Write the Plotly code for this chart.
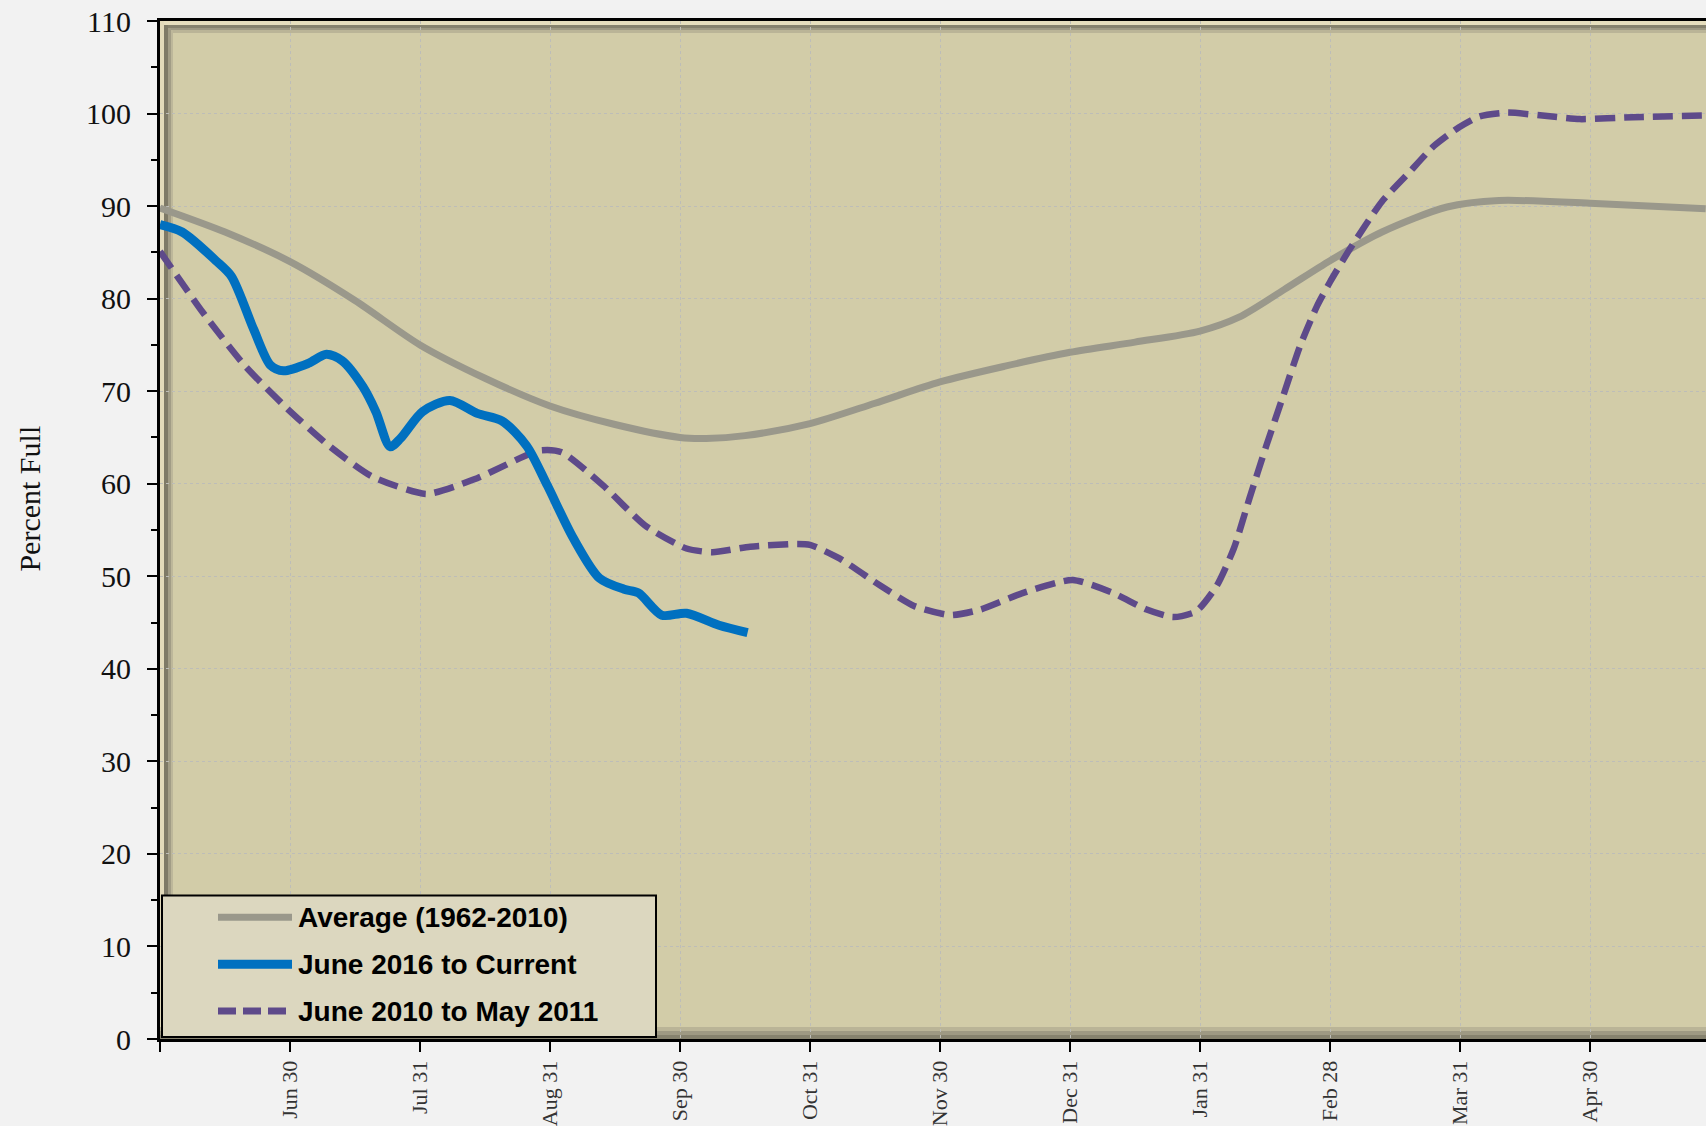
import plotly.graph_objects as go

# ---------------- data (x = months since June 1) ----------------
tick_pos = [0, 1, 2, 3, 4, 5, 6, 7, 8, 9, 10, 11]
tick_labels = ["", "Jun 30", "Jul 31", "Aug 31", "Sep 30", "Oct 31", "Nov 30",
               "Dec 31", "Jan 31", "Feb 28", "Mar 31", "Apr 30"]

avg_x = [0, 0.5, 1, 1.5, 2, 2.5, 3, 3.5, 4, 4.2, 4.5, 5, 5.5, 6, 6.5, 7, 7.5, 8,
         8.3, 8.65, 9, 9.4, 9.9, 10.3, 11, 11.89]
avg_y = [89.8, 87.2, 84.0, 79.8, 75.0, 71.4, 68.4, 66.4, 65.0, 64.9, 65.2, 66.5,
         68.7, 71.0, 72.7, 74.2, 75.3, 76.5, 78.0, 81.0, 84.1, 87.2, 89.9, 90.6,
         90.3, 89.7]

cur_x = [0, 0.17, 0.43, 0.55, 0.72, 0.85, 0.95, 1.14, 1.28, 1.4, 1.56, 1.66, 1.77,
         1.85, 2.02, 2.23, 2.44, 2.63, 2.82, 2.98, 3.18, 3.38, 3.57, 3.68, 3.86,
         4.05, 4.3, 4.52]
cur_y = [88.0, 87.2, 84.1, 82.4, 76.7, 72.8, 72.2, 73.0, 74.0, 73.3, 70.5, 67.8,
         64.0, 64.9, 67.8, 69.0, 67.6, 66.8, 64.1, 59.8, 54.1, 49.8, 48.6, 48.2,
         45.8, 46.0, 44.7, 43.9]

wet_x = [0, 0.33, 0.65, 0.98, 1.3, 1.63, 2.05, 2.44, 2.92, 3.09, 3.41, 3.73, 4.05,
         4.25, 4.54, 4.9, 5.0, 5.23, 5.54, 5.8, 6.08, 6.31, 6.64, 7.02, 7.33, 7.59,
         7.79, 7.97, 8.13, 8.26, 8.38, 8.51, 8.64, 8.77, 8.9, 9.0, 9.15, 9.4, 9.6,
         9.8, 9.99, 10.15, 10.36, 10.69, 10.92, 11.33, 11.89]
wet_y = [85.1, 78.5, 72.8, 68.1, 64.1, 60.8, 58.9, 60.6, 63.6, 63.4, 59.8, 55.5,
         53.0, 52.6, 53.2, 53.5, 53.4, 51.9, 49.0, 46.8, 45.8, 46.4, 48.2, 49.6,
         48.2, 46.4, 45.6, 46.2, 49.0, 53.0, 58.4, 64.1, 69.5, 74.9, 79.2, 81.8,
         85.3, 90.5, 93.5, 96.5, 98.5, 99.7, 100.1, 99.7, 99.4, 99.6, 99.8]

series_names = ["Average (1962-2010)", "June 2016 to Current", "June 2010 to May 2011"]

# ---------------- styling ----------------
W, H = 1706, 1126
L, R, T, B = 160, 0, 21, 84
PW, PH = W - L - R, H - T - B
BG = "#F2F2F2"
PLOT_BG = "#D2CCA8"
C_AVG = "#9A988B"
C_CUR = "#0070C0"
C_WET = "#5E4A8A"


def px(xp):
    return (xp - L) / PW


def py(yp):
    return (H - B - yp) / PH


fig = go.Figure()
fig.add_trace(go.Scatter(x=avg_x, y=avg_y, mode="lines", name=series_names[0],
                         line=dict(color=C_AVG, width=7, shape="spline", smoothing=0.8)))
fig.add_trace(go.Scatter(x=wet_x, y=wet_y, mode="lines", name=series_names[2],
                         line=dict(color=C_WET, width=6.5, dash="20px,9px",
                                   shape="spline", smoothing=0.6)))
fig.add_trace(go.Scatter(x=cur_x, y=cur_y, mode="lines", name=series_names[1],
                         line=dict(color=C_CUR, width=9, shape="spline", smoothing=0.8)))

shapes = []


def rect(x0, y0, x1, y1, color, layer="below", line=None):
    d = dict(type="rect", xref="paper", yref="paper",
             x0=px(x0), x1=px(x1), y0=py(y1), y1=py(y0),
             fillcolor=color, layer=layer, line=dict(width=0))
    if line:
        d["line"] = line
    shapes.append(d)


# bevel: top
rect(160, 21, W, 25, "#E6DEBE")
rect(160, 25, W, 28, "#86826E")
rect(160, 28, W, 30, "#9E9983")
rect(160, 30, W, 33, "#BAB497")
# bevel: left
rect(160, 21, 164, 1042, "#E2DABA")
rect(164, 25, 168, 1042, "#7E7A67")
rect(168, 28, 171, 1042, "#A29D86")
rect(171, 30, 173, 1042, "#BDB79A")
# bevel: bottom
rect(160, 1030, W, 1034, "#BAB497")
rect(160, 1034, W, 1038, "#9E9983")
rect(160, 1038, W, 1042, "#86826E")

# legend box
rect(162, 898, 656, 1040, "#DCD7BF", layer="above",
     line=dict(color="#000000", width=2))
leg_rows = [920, 967, 1014]
leg_styles = [dict(color=C_AVG, width=7), dict(color=C_CUR, width=9),
              dict(color=C_WET, width=7, dash="18px,7px")]
annotations = []
for yrow, st, name in zip(leg_rows, leg_styles, series_names):
    shapes.append(dict(type="line", xref="paper", yref="paper", layer="above",
                       x0=px(218), x1=px(292), y0=py(yrow), y1=py(yrow), line=st))
    annotations.append(dict(xref="paper", yref="paper", x=px(296), y=py(yrow),
                            xanchor="left", yanchor="middle", showarrow=False,
                            text="<b>" + name + "</b>",
                            font=dict(family="Liberation Sans, Arial", size=28,
                                      color="#000000")))

# y-axis title
annotations.append(dict(xref="paper", yref="paper", x=px(30), y=py(500),
                        xanchor="center", yanchor="middle", showarrow=False,
                        text="Percent Full", textangle=-90,
                        font=dict(family="Liberation Serif, Times New Roman",
                                  size=30, color="#111111")))

fig.update_layout(
    width=W, height=H,
    margin=dict(l=L, r=R, t=T, b=B, pad=0),
    paper_bgcolor=BG, plot_bgcolor=PLOT_BG,
    showlegend=False,
    shapes=shapes, annotations=annotations,
    font=dict(family="Liberation Serif, Times New Roman", color="#000000"),
)
fig.update_xaxes(
    range=[0, (W - L - R) / 130.0],
    tickmode="array", tickvals=tick_pos, ticktext=tick_labels,
    tickangle=-90, tickfont=dict(family="Liberation Serif, Times New Roman",
                                 size=22, color="#333333"),
    ticks="outside", ticklen=10, tickwidth=2, tickcolor="#000000",
    showline=True, linewidth=3, linecolor="#000000", mirror=True,
    showgrid=True, gridcolor="#BDBDB8", gridwidth=1, griddash="dot",
    zeroline=False,
)
fig.update_yaxes(
    range=[0, 110], tickmode="linear", tick0=0, dtick=10,
    tickfont=dict(family="Liberation Serif, Times New Roman", size=30, color="#111111"),
    ticks="outside", ticklen=10, tickwidth=2, tickcolor="#000000",
    minor=dict(dtick=5, tick0=0, ticks="outside", ticklen=6, tickwidth=2,
               tickcolor="#000000", showgrid=False),
    showline=True, linewidth=3, linecolor="#000000",
    showgrid=True, gridcolor="#BDBDB8", gridwidth=1, griddash="dot",
    zeroline=False, ticklabelstandoff=10,
)

fig.write_html("out.html", config={"displayModeBar": False},
               post_script="document.body.style.margin='0';document.body.style.overflow='hidden';")
